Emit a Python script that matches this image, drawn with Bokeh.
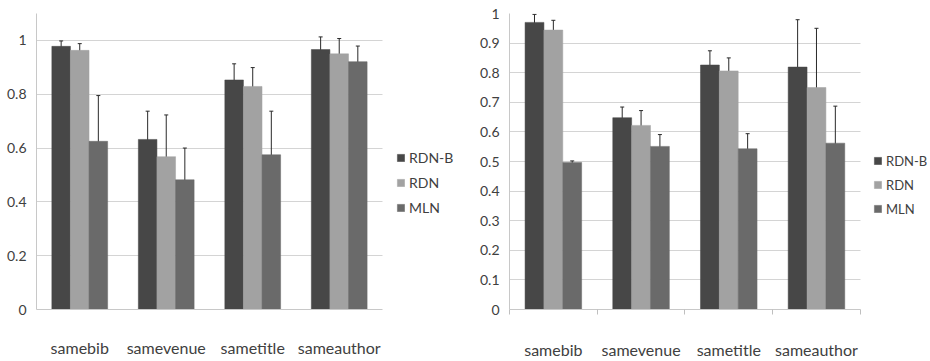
from bokeh.plotting import figure
from bokeh.layouts import row
from bokeh.models import (Range1d, FixedTicker, Whisker, TeeHead, ColumnDataSource,
                          Legend, LegendItem)
from bokeh.embed import file_html
from bokeh.resources import INLINE

categories = ["samebib", "samevenue", "sametitle", "sameauthor"]
series = ["RDN-B", "RDN", "MLN"]
colors = ["#474747", "#a2a2a2", "#6a6a6a"]

# Left chart
left_rdnb = [0.978, 0.632, 0.853, 0.966]
left_rdnb_err = [0.020, 0.105, 0.060, 0.047]
left_rdn = [0.963, 0.568, 0.829, 0.950]
left_rdn_err = [0.025, 0.155, 0.070, 0.057]
left_mln = [0.625, 0.482, 0.575, 0.921]
left_mln_err = [0.170, 0.118, 0.162, 0.058]
left_yticks = [0, 0.2, 0.4, 0.6, 0.8, 1.0]

# Right chart
right_rdnb = [0.970, 0.648, 0.826, 0.819]
right_rdnb_err = [0.027, 0.036, 0.048, 0.160]
right_rdn = [0.944, 0.622, 0.806, 0.750]
right_rdn_err = [0.033, 0.050, 0.044, 0.200]
right_mln = [0.497, 0.551, 0.543, 0.562]
right_mln_err = [0.005, 0.040, 0.051, 0.125]
right_yticks = [0, 0.1, 0.2, 0.3, 0.4, 0.5, 0.6, 0.7, 0.8, 0.9, 1.0]

FONT = "Lato"
TXT = "#404040"


def make(vals, errs, yticks, ymax, W, bl, bt, bb, xmax, boundary_ticks, legend_xy, spacing,
         ylabels, xfs, yfs, lfs, xstandoff):
    n = len(categories)
    p = figure(width=W, height=361, output_backend="svg", toolbar_location=None,
               x_range=Range1d(0, xmax), y_range=Range1d(0, ymax),
               min_border_left=bl, min_border_right=0, min_border_top=bt,
               min_border_bottom=bb)
    p.outline_line_color = None
    p.background_fill_color = "white"
    p.border_fill_color = "white"
    bw = 0.215
    offs = [-bw, 0.0, bw]
    renderers = []
    for k in range(3):
        xs = [i + 0.5 + offs[k] for i in range(n)]
        v = vals[k]
        e = errs[k]
        src = ColumnDataSource(dict(x=xs, top=v,
                                    upper=[a + b for a, b in zip(v, e)],
                                    lower=[a - b for a, b in zip(v, e)]))
        r = p.vbar(x="x", top="top", width=bw, bottom=0, source=src,
                   fill_color=colors[k], line_color=colors[k], line_width=0.5)
        renderers.append(r)
        w = Whisker(base="x", upper="upper", lower="lower", source=src,
                    line_color="#2a2a2a", line_width=1,
                    upper_head=TeeHead(size=4, line_color="#2a2a2a", line_width=1),
                    lower_head=TeeHead(size=4, line_color="#2a2a2a", line_width=1))
        p.add_layout(w)
    # axes
    p.xaxis.bounds = (0, n)
    p.xaxis.ticker = FixedTicker(ticks=[i + 0.5 for i in range(n)],
                                 minor_ticks=list(range(n + 1)) if boundary_ticks else [])
    p.xaxis.major_label_overrides = {i + 0.5: c for i, c in enumerate(categories)}
    p.xaxis.major_tick_out = 0
    p.xaxis.major_tick_in = 0
    p.xaxis.minor_tick_in = 0
    p.xaxis.minor_tick_out = 5 if boundary_ticks else 0
    p.xaxis.minor_tick_line_color = "#bfbfbf"
    p.xaxis.axis_line_color = "#c8c8c8"
    p.xaxis.major_label_standoff = xstandoff
    p.yaxis.ticker = FixedTicker(ticks=yticks)
    p.yaxis.major_label_overrides = {t: l for t, l in zip(yticks, ylabels)}
    p.yaxis.major_tick_out = 0
    p.yaxis.major_tick_in = 0
    p.yaxis.minor_tick_out = 0
    p.yaxis.minor_tick_in = 0
    p.yaxis.axis_line_color = "#c8c8c8"
    p.yaxis.major_label_standoff = 10
    p.xaxis.major_label_text_font_size = xfs
    p.yaxis.major_label_text_font_size = yfs
    for ax in (p.xaxis, p.yaxis):
        ax.major_label_text_font = FONT
        ax.major_label_text_color = TXT
    p.xgrid.grid_line_color = None
    p.ygrid.ticker = FixedTicker(ticks=yticks)
    p.ygrid.cross_bounds = (0, n)
    p.ygrid.grid_line_color = "#d4d4d4"
    p.ygrid.grid_line_width = 1

    items = [LegendItem(label=series[k], renderers=[renderers[k]]) for k in range(3)]
    lg = Legend(items=items, location=legend_xy, orientation="vertical")
    lg.background_fill_alpha = 0
    lg.border_line_color = None
    lg.padding = 0
    lg.margin = 0
    lg.glyph_width = 9
    lg.glyph_height = 9
    lg.label_height = 19
    lg.spacing = spacing
    lg.label_standoff = 4
    lg.label_text_font = FONT
    lg.label_text_font_size = lfs
    lg.label_text_color = TXT
    p.add_layout(lg, "center")
    return p


left_vals = [left_rdnb, left_rdn, left_mln]
left_errs = [left_rdnb_err, left_rdn_err, left_mln_err]
right_vals = [right_rdnb, right_rdn, right_mln]
right_errs = [right_rdnb_err, right_rdn_err, right_mln_err]

p1 = make(left_vals, left_errs, left_yticks, 1.1, 465, 36, 13, 40, 4.96, False, (360, 92), 6,
          ["0", "0.2", "0.4", "0.6", "0.8", "1"], "16px", "14px", "14px", 28)
p2 = make(right_vals, right_errs, right_yticks, 1.0, 465, 44, 13, 44, 4.80, True, (364, 91), 5,
          ["0", "0.1", "0.2", "0.3", "0.4", "0.5", "0.6", "0.7", "0.8", "0.9", "1"],
          "16px", "14px", "13px", 25)

layout = row(p1, p2)
open("out.html", "w").write(file_html(layout, INLINE))
